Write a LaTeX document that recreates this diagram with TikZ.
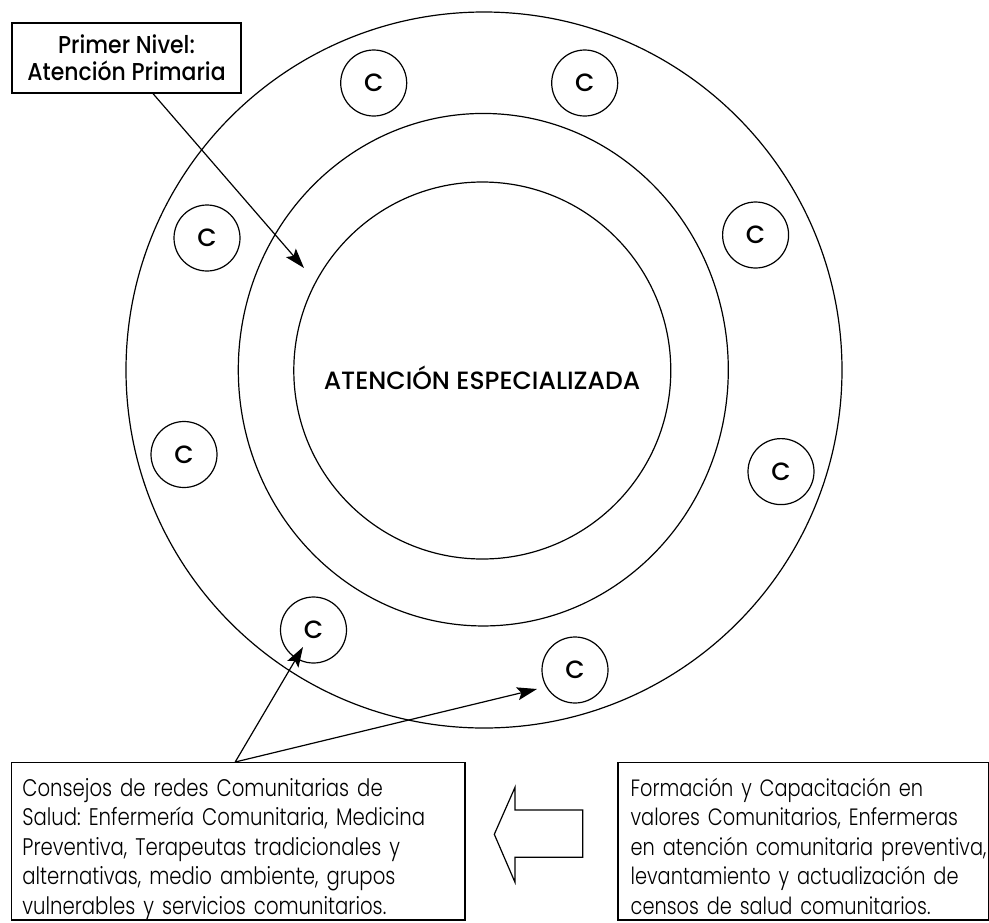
\documentclass[tikz,border=0pt]{standalone}
\usepackage{fontspec}
\setmainfont{Poppins Light}[FakeStretch=0.82]
\newfontfamily\medfont{Poppins Medium}[FakeStretch=0.9]
\newfontfamily\capsfont{Poppins Medium}
\frenchspacing
\usetikzlibrary{shapes.geometric, arrows.meta}

\tikzset{
  cnode/.style={circle, draw, minimum size=66pt, inner sep=0pt,
    font=\capsfont\fontsize{25}{27}\selectfont},
  txtbox/.style={draw, rectangle, align=left, inner ysep=0pt, text height=25pt, text depth=115.6pt,
    minimum height=157.4pt, font=\fontsize{24}{29.5}\selectfont},
  flecha/.style={-{Stealth[length=20pt, width=13pt, inset=4pt]}}
}

\begin{document}
\begin{tikzpicture}[x=1pt, y=-1pt, line width=1.2pt]
  \useasboundingbox (0,0) rectangle (989,922);

  % anillos
  \node[circle, draw, minimum size=716pt] (exterior) at (484,370) {};
  \node[ellipse, draw, minimum width=490pt, minimum height=512.5pt] (medio) at (483.3,369.7) {};
  \node[circle, draw, minimum size=377pt] (interior) at (482.3,370.5) {};
  \node[anchor=base, font=\capsfont\fontsize{25}{27}\selectfont] (especial) at (482,389.4) {ATENCIÓN ESPECIALIZADA};

  % consejos comunitarios
  \foreach \n/\x/\y in {1/373.7/83, 2/584.7/83, 3/207/238, 4/755.6/235,
                        5/184/454.5, 6/781/471.6, 7/313.5/630, 8/575/670}
    \node[cnode] (c\n) at (\x,\y) {C};

  % cajas
  \node[draw, minimum width=229pt, minimum height=70pt, align=center,
        font=\medfont\fontsize{24.4}{27}\selectfont] (primer) at (126.5,58)
        {Primer Nivel:\\Atención Primaria};
  \node[txtbox, inner xsep=11pt, text width=431.6pt] (consejos) at (238.2,841.3)
        {Consejos de redes Comunitarias de\\Salud: Enfermería Comunitaria, Medicina\\Preventiva, Terapeutas tradicionales y\\alternativas, medio ambiente, grupos\\vulnerables y servicios comunitarios.};
  \node[txtbox, inner xsep=12.7pt, text width=345.1pt, font=\fontsize{23.6}{29.5}\selectfont] (formacion) at (803.2,841.3)
        {\mbox{Formación y Capacitación en}\\\mbox{valores Comunitarios, Enfermeras}\\\mbox{en atención comunitaria preventiva,}\\\mbox{levantamiento y actualización de}\\\mbox{censos de salud comunitarios.}};

  % flechas
  \coordinate (pfin) at (304,268);
  \coordinate (c7fin) at (303,647);
  \coordinate (c8fin) at (537,689);
  \draw[flecha] ([xshift=26.5pt]primer.south) -- (pfin);
  \draw[flecha] ([xshift=-3pt]consejos.north) -- (c7fin);
  \draw[flecha] ([xshift=-3pt]consejos.north) -- (c8fin);

  % flecha hueca
  \draw (494.3,834.3) -- (515,787.3) -- (515,810) -- (582.7,810) -- (582.7,857.3)
        -- (515,857.3) -- (515,882.3) -- cycle;
\end{tikzpicture}
\end{document}
